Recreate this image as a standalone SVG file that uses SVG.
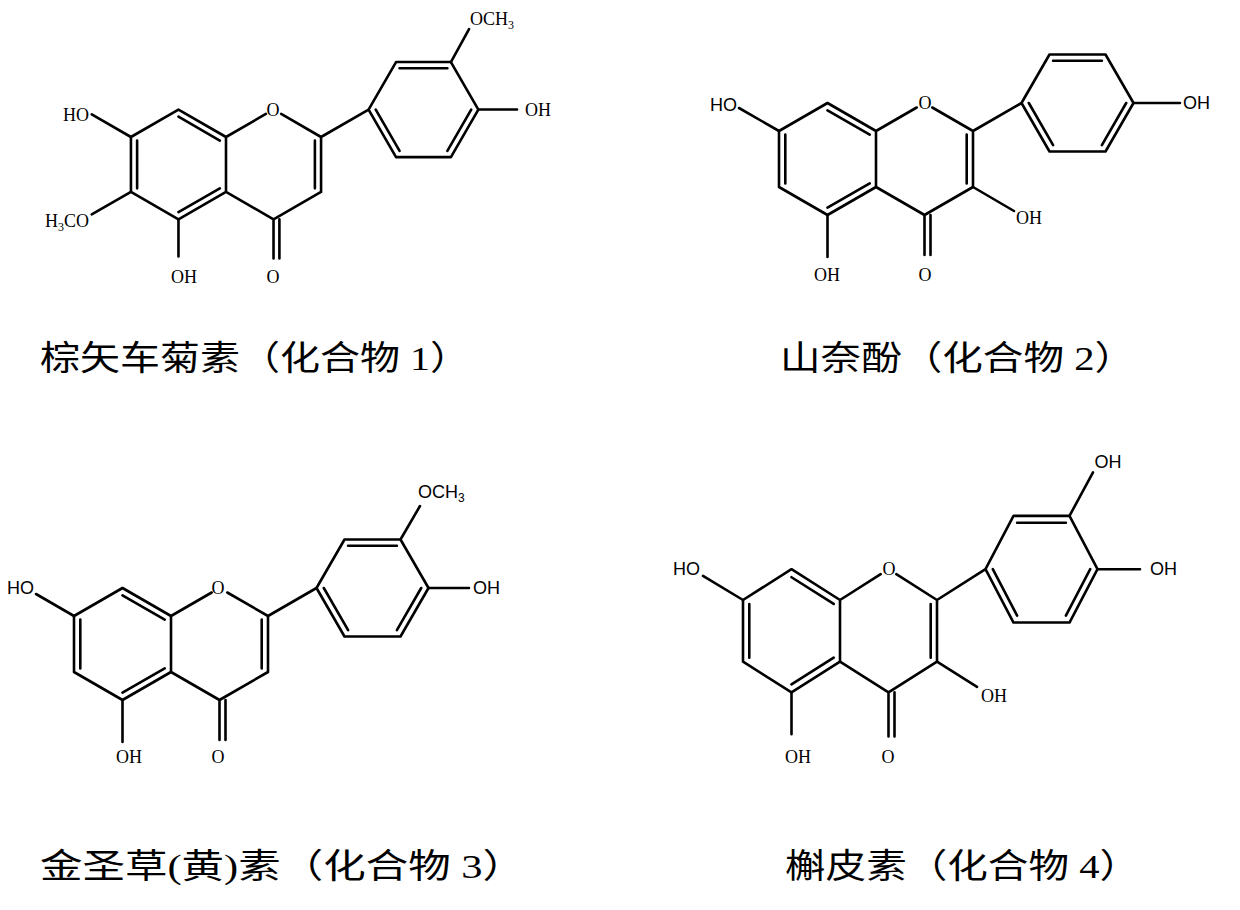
<svg xmlns="http://www.w3.org/2000/svg" xmlns:xlink="http://www.w3.org/1999/xlink" width="1240" height="910" viewBox="0 0 1240 910">
<style>
.b{stroke:#000;stroke-width:2.6;fill:none;stroke-linecap:round;stroke-linejoin:round}
.s{font-family:"Liberation Serif",serif;font-size:18px;fill:#000}
.a{font-family:"Liberation Sans",sans-serif;font-size:18px;fill:#000}
.cap{font-family:"Liberation Serif","Noto Sans CJK SC",serif;font-size:34px;fill:#000}
</style>
<defs>
<g id="core" class="b">
<path vector-effect="non-scaling-stroke" d="M0,0 L0,56 L-48.5,84 L-97,56 L-97,0 L-48.5,-28 L0,0 M0,0 L40.7,-23.5 M56.3,-23.5 L97,0 L97,56 L48.5,84 L0,56 M48.5,84 L48.5,124 M54.5,84 L54.5,124 M97,0 L145.5,-28 M145.5,-28 L173.5,-76.5 L229.5,-76.5 L257.5,-28 L229.5,20.5 L173.5,20.5 Z"/>
<path vector-effect="non-scaling-stroke" d="M-6.3,3.6 L-48.5,-20.7 M-90.7,3.6 L-90.7,52.4 M-6.3,52.4 L-48.5,76.7 M90.7,3.6 L90.7,52.4 M177.1,-70.2 L225.9,-70.2 M152.8,-28 L177.1,14.2 M250.2,-28 L225.9,14.2"/>
</g>
</defs>
<rect width="1240" height="910" fill="#fff"/>
<g id="compound1">
<g transform="translate(226,137) scale(0.98)">
<use xlink:href="#core"/>
<path class="b" vector-effect="non-scaling-stroke" d="M-97,0 L-137,-23 M-97,56 L-137,79 M-48.5,84 L-48.5,122 M229.5,-76.5 L248,-110 M257.5,-28 L297,-28"/>
</g>
<text class="s" x="89" y="121" text-anchor="end">HO</text>
<text class="s" x="89" y="227" text-anchor="end">H<tspan font-size="12" dy="4">3</tspan><tspan dy="-4">CO</tspan></text>
<text class="s" x="184" y="283" text-anchor="middle">OH</text>
<text class="s" x="273" y="283" text-anchor="middle">O</text>
<text class="s" x="273" y="116" text-anchor="middle">O</text>
<text class="s" x="525" y="116">OH</text>
<text class="s" x="470" y="25">OCH<tspan font-size="12" dy="4">3</tspan></text>
<text class="cap" x="40" y="370" textLength="430" lengthAdjust="spacingAndGlyphs">棕矢车菊素（化合物 1）</text>
</g>
<g id="compound2">
<g transform="translate(876,131)">
<use xlink:href="#core"/>
<path class="b" d="M-97,0 L-137,-23 M-48.5,84 L-48.5,126 M97,56 L138,80 M257.5,-28 L304,-28"/>
</g>
<text class="a" x="737" y="111" text-anchor="end">HO</text>
<text class="s" x="925" y="109" text-anchor="middle">O</text>
<text class="a" x="1183" y="109">OH</text>
<text class="s" x="1016" y="224">OH</text>
<text class="s" x="827" y="281" text-anchor="middle">OH</text>
<text class="s" x="925" y="281" text-anchor="middle">O</text>
<text class="cap" x="780" y="370" textLength="355" lengthAdjust="spacingAndGlyphs">山奈酚（化合物 2）</text>
</g>
<g id="compound3">
<g transform="translate(171,616)">
<use xlink:href="#core"/>
<path class="b" d="M-97,0 L-135,-22 M-48.5,84 L-48.5,126 M229.5,-76.5 L249,-110 M257.5,-28 L298,-28"/>
</g>
<text class="a" x="34" y="594" text-anchor="end">HO</text>
<text class="s" x="218" y="594" text-anchor="middle">O</text>
<text class="a" x="418" y="498">OCH<tspan font-size="12" dy="4">3</tspan></text>
<text class="a" x="473" y="594">OH</text>
<text class="s" x="129" y="763" text-anchor="middle">OH</text>
<text class="s" x="218" y="763" text-anchor="middle">O</text>
<text class="cap" x="40" y="878" textLength="485" lengthAdjust="spacingAndGlyphs">金圣草(黄)素（化合物 3）</text>
</g>
<g id="compound4">
<g transform="translate(840,600) scale(1,1.1)">
<use xlink:href="#core"/>
<path class="b" vector-effect="non-scaling-stroke" d="M-97,0 L-137,-22 M-48.5,84 L-48.5,122 M97,56 L137,79 M229.5,-76.5 L253,-116 M257.5,-28 L300,-28"/>
</g>
<text class="a" x="700" y="575" text-anchor="end">HO</text>
<text class="s" x="889" y="575" text-anchor="middle">O</text>
<text class="a" x="1150" y="575">OH</text>
<text class="a" x="1108" y="468" text-anchor="middle">OH</text>
<text class="s" x="981" y="702">OH</text>
<text class="s" x="798" y="763" text-anchor="middle">OH</text>
<text class="s" x="888" y="763" text-anchor="middle">O</text>
<text class="cap" x="785" y="878" textLength="355" lengthAdjust="spacingAndGlyphs">槲皮素（化合物 4）</text>
</g>
</svg>
